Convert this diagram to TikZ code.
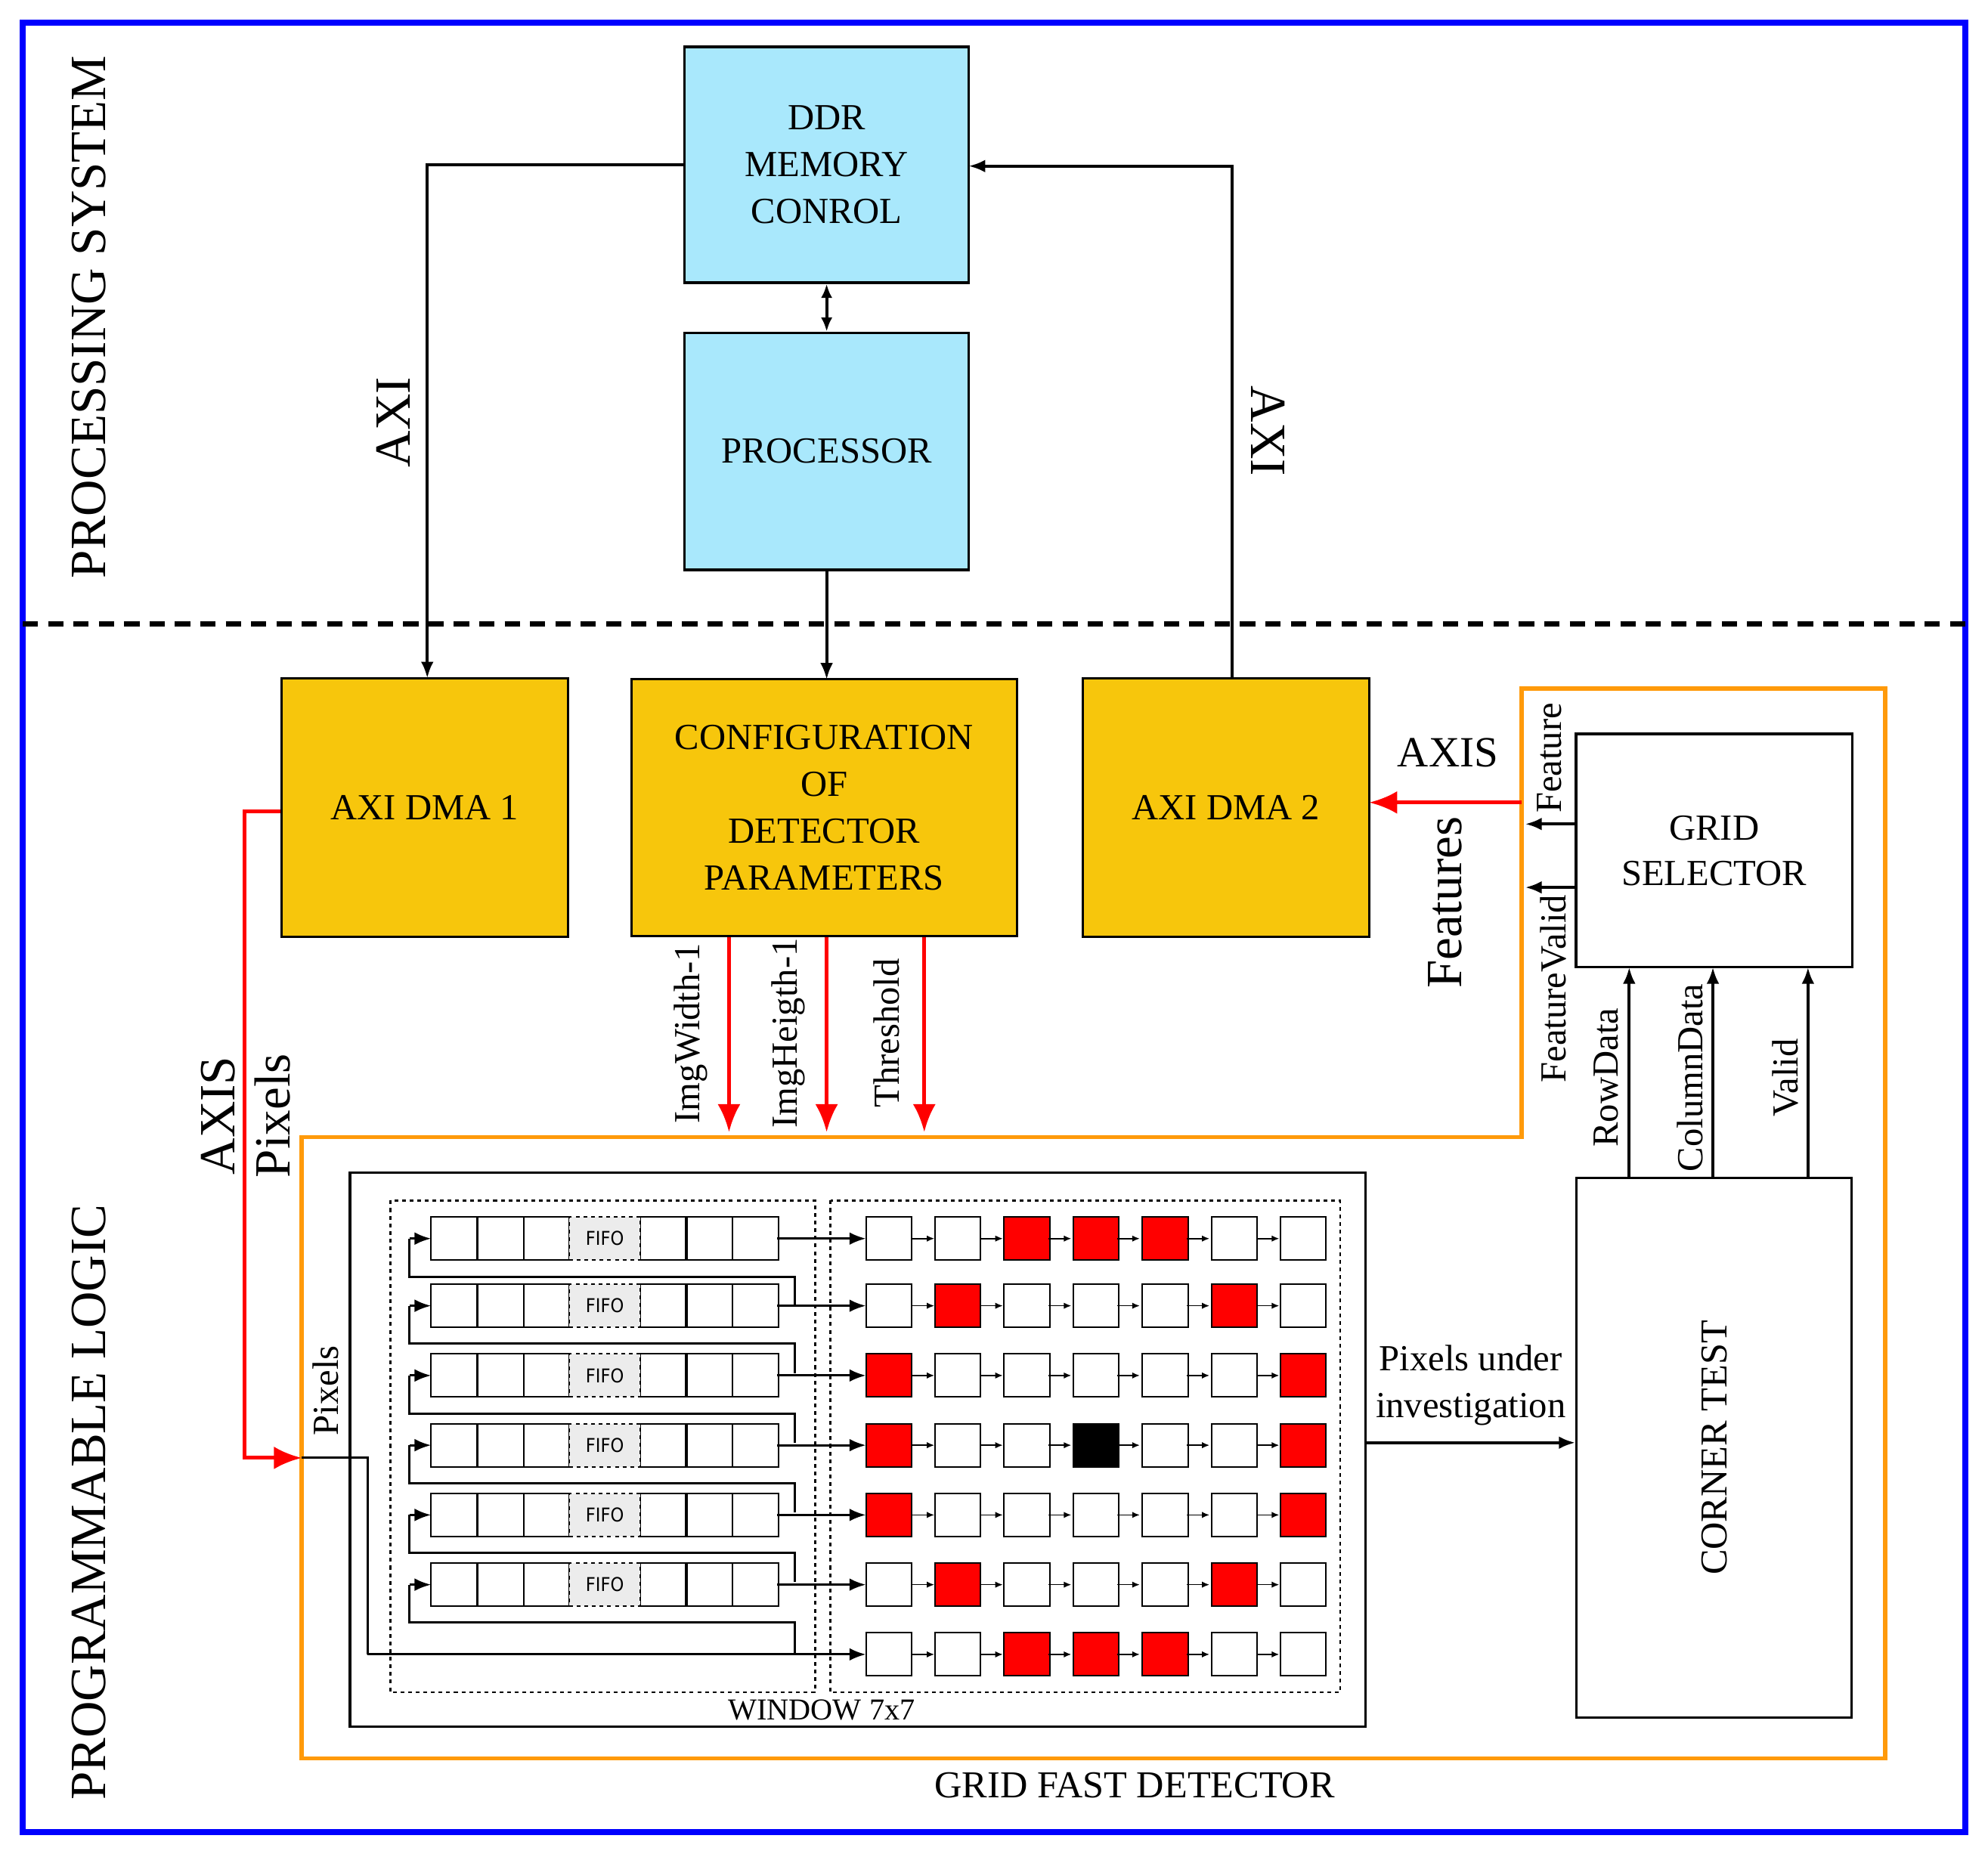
\documentclass[tikz,border=0pt]{standalone}
\usepackage{fontspec}
\setmainfont{Liberation Serif}
\newfontfamily\sfx{DejaVu Sans Condensed}
\usetikzlibrary{arrows.meta}
\definecolor{gold}{HTML}{F7C60C}
\definecolor{sky}{HTML}{A9E8FC}
\definecolor{orng}{HTML}{FF9A0A}
\begin{document}
\begin{tikzpicture}[x=1pt,y=-1pt,line width=2.4pt,
 blk/.style={draw,line width=2pt,fill=#1,align=center,font=\fontsize{29}{37}\selectfont},
 arr/.style={-{Latex[length=13pt,width=10pt]}},
 red/.style={draw=red,line width=3pt,-{Latex[length=22pt,width=18pt]}},
 cell/.style={draw,line width=1.2pt,minimum width=36pt,minimum height=34pt,inner sep=0pt},
 fifo/.style={draw,dashed,line width=1.2pt,fill=gray!15,minimum width=56pt,minimum height=34pt,inner sep=0pt,font=\sfx\fontsize{15}{15}\selectfont},
 lab/.style={font=\fontsize{29}{32}\selectfont},
 big/.style={font=\fontsize{40}{44}\selectfont}]
\useasboundingbox (0,0) rectangle (1568,1462);
\draw[blue,line width=5pt] (18,18) rectangle (1550,1445);
\draw[dashed,line width=4pt,dash pattern=on 12pt off 8pt] (18,492) -- (1550,492);
\node[big,rotate=90] (ps) at (70,250) {PROCESSING SYSTEM};
\node[big,rotate=90] (pl) at (70,1185) {PROGRAMMABLE LOGIC};
% top
\node[blk=sky, minimum width=224pt,minimum height=186pt] (ddr) at (652,130) {DDR\\MEMORY\\CONROL};
\node[blk=sky, minimum width=224pt,minimum height=187pt] (cpu) at (652,356) {PROCESSOR};
\draw[{Latex[length=11pt,width=9pt]}-{Latex[length=11pt,width=9pt]}] (ddr.south) -- (cpu.north);
\node[blk=gold, minimum width=226pt,minimum height=204pt] (dma1) at (335,637) {AXI DMA 1};
\node[blk=gold, minimum width=304pt,minimum height=203pt] (cfg) at (650,637) {CONFIGURATION\\OF\\DETECTOR\\PARAMETERS};
\node[blk=gold, minimum width=226pt,minimum height=204pt] (dma2) at (967,637) {AXI DMA 2};
\draw[arr] (ddr.west) -- (337,130) -- (337,535);
\node[big,rotate=90] (axi1) at (310,333) {AXI};
\draw[arr] (972,535) -- (972,131) -- (764,131);
\node[big,rotate=-90] (axi2) at (1000,340) {AXI};
\draw[arr] (cpu.south) -- (652,536);
% orange
\draw[orng,line width=3.5pt] (238,897) -- (1200,897) -- (1200,543) -- (1487,543) -- (1487,1387) -- (238,1387) -- cycle;
\node[font=\fontsize{30}{34}\selectfont] (gfd) at (895,1408) {GRID FAST DETECTOR};
% config arrows
\foreach \x/\t in {575/ImgWidth-1,652/ImgHeigth-1,729/Threshold}{
 \draw[red] (\x,739) -- (\x,893);
 \node[lab,rotate=90] at (\x-30,815) {\t};}
% dma1 path
\draw[red] (dma1.west |- 0,640) -- (193,640) -- (193,1150) -- (238,1150);
\node[big,rotate=90] (axis1) at (172,880) {AXIS};
\node[big,rotate=90] (pix1) at (215,880) {Pixels};
\node[lab,rotate=90] (pix2) at (257,1097) {Pixels};
% window
\draw[line width=2pt] (276,925) rectangle (1077,1362);
\node[font=\fontsize{24}{26}\selectfont] (w77) at (648,1349) {WINDOW 7x7};
\draw[dashed,line width=1.5pt] (308,947) rectangle (643,1335);
\draw[dashed,line width=1.5pt] (655,947) rectangle (1057,1335);
\foreach \y in {977,1030,1085,1140,1195,1250}{
 \foreach \x in {358,395,431,523,560,596} \node[cell] at (\x,\y) {};
 \node[fifo] at (477,\y) {FIFO};
 \draw[arr,line width=1.8pt] (613,\y) -- (683,\y);
 \draw[arr,line width=1.8pt] (323,\y) -- (340,\y);
 \draw[line width=1.8pt] (627,\y+53) -- (627,\y+30) -- (323,\y+30) -- (323,\y);
}
\draw[line width=1.8pt] (238,1150) -- (290,1150) -- (290,1305);
\draw[arr,line width=1.8pt] (290,1305) -- (683,1305);
\draw[line width=1.8pt] (627,1305) -- (627,1283);
% window cells
\foreach \y/\cols in {977/{white,white,red,red,red,white,white},
 1030/{white,red,white,white,white,red,white},
 1085/{red,white,white,white,white,white,red},
 1140/{red,white,white,black,white,white,red},
 1195/{red,white,white,white,white,white,red},
 1250/{white,red,white,white,white,red,white},
 1305/{white,white,red,red,red,white,white}}{
 \foreach \col [count=\c] in \cols{
  \node[cell,fill=\col] at ({701+(\c-1)*54.5},\y) {};
 }
 \foreach \x in {719,773,827,881,936,991} \draw[-{Latex[length=6pt,width=5pt]},line width=1pt] (\x,\y) -- (\x+18,\y);
}
% grid selector & corner test
\node[draw,line width=2pt,minimum width=218pt,minimum height=184pt,align=center,font=\fontsize{29}{36}\selectfont] (gs) at (1352,671) {GRID\\SELECTOR};
\node[draw,line width=2pt,minimum width=217pt,minimum height=426pt] (ct) at (1352,1142) {};
\node[rotate=90,font=\fontsize{30}{34}\selectfont] (ctl) at (1352,1142) {CORNER TEST};
\foreach \x/\t in {1285/RowData,1351/ColumnData,1426/Valid}{
 \draw[arr] (\x,929) -- (\x,763);
 \node[lab,rotate=90] at (\x-18,850) {\t};}
\draw[arr] (1243,650) -- (1203,650);
\draw[arr] (1243,700) -- (1203,700);
\node[lab,rotate=90] (feat) at (1222,598) {Feature};
\node[lab,rotate=90] (fv) at (1225,780) {FeatureValid};
\draw[red] (1200,633) -- (1080,633);
\node[font=\fontsize{34}{38}\selectfont] (axis2) at (1142,594) {AXIS};
\node[big,rotate=90] (feats) at (1140,712) {Features};
\draw[arr] (1077,1138) -- (ct.west |- 0,1138);
\node[align=center,font=\fontsize{29}{37}\selectfont] (piu) at (1160,1093) {Pixels under\\investigation};
\end{tikzpicture}
\end{document}
